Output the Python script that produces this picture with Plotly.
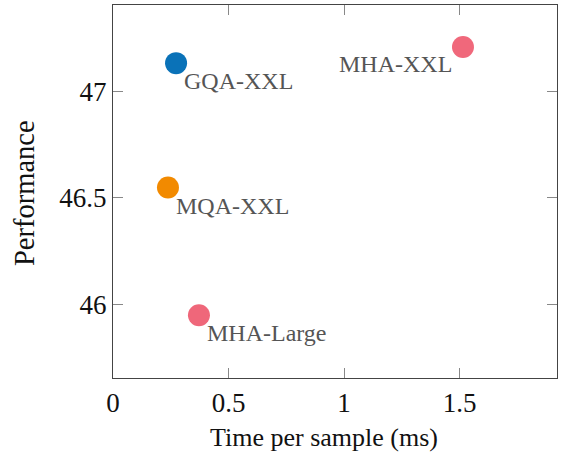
import plotly.graph_objects as go

models = ["GQA-XXL", "MHA-XXL", "MQA-XXL", "MHA-Large"]
time_ms = [0.273, 1.515, 0.238, 0.372]
performance = [47.131, 47.207, 46.547, 45.948]
colors = ["#0a72b8", "#f0687b", "#f28a00", "#ef677a"]
x_ticks = [0, 0.5, 1, 1.5]
y_ticks = [46, 46.5, 47]
x_title = "Time per sample (ms)"
y_title = "Performance"

# label placement (anchor side relative to the marker)
label_side = ["right", "left", "right", "right"]

fig = go.Figure()
fig.add_trace(go.Scatter(
    x=time_ms, y=performance, mode="markers",
    marker=dict(size=22, color=colors, line=dict(width=0)),
    showlegend=False, hoverinfo="skip",
))

lab_font = dict(family="Liberation Serif", size=24, color="#555555")
for m, x, y, side in zip(models, time_ms, performance, label_side):
    if side == "right":
        fig.add_annotation(x=x, y=y, text=m, showarrow=False,
                           xanchor="left", yanchor="top", xshift=6, yshift=-3,
                           font=lab_font)
    else:
        fig.add_annotation(x=x, y=y, text=m, showarrow=False,
                           xanchor="right", yanchor="top", xshift=-9, yshift=-2,
                           font=lab_font)

# axis titles as annotations (positioned like the reference)
fig.add_annotation(xref="paper", yref="paper", x=0.475, y=0, yshift=-59,
                   xanchor="center", yanchor="middle", showarrow=False, text=x_title,
                   font=dict(family="Liberation Serif", size=26, color="#111111"))
fig.add_annotation(xref="paper", yref="paper", x=0, y=0.496, xshift=-88,
                   xanchor="center", yanchor="middle", showarrow=False, text=y_title,
                   textangle=-90,
                   font=dict(family="Liberation Serif", size=28.5, color="#111111"))

axis_common = dict(
    showgrid=False, zeroline=False, showline=True, linecolor="#444444", linewidth=1.3,
    mirror="ticks", ticks="inside", ticklen=10, tickwidth=1, tickcolor="#888888",
    tickfont=dict(family="Liberation Serif", size=27, color="#111111"),
)

fig.update_xaxes(range=[0, 1.922], tickvals=x_ticks, ticktext=[str(v) for v in x_ticks],
                 **axis_common)
fig.update_yaxes(range=[45.653, 47.404], tickvals=y_ticks, ticktext=["46", "46.5", "47"],
                 **axis_common)

fig.update_layout(
    width=561, height=452,
    margin=dict(l=113, r=4, t=5, b=74),
    plot_bgcolor="white", paper_bgcolor="white",
)

fig.write_html("out.html", config={"displayModeBar": False},
               post_script="document.body.style.margin='0';")
